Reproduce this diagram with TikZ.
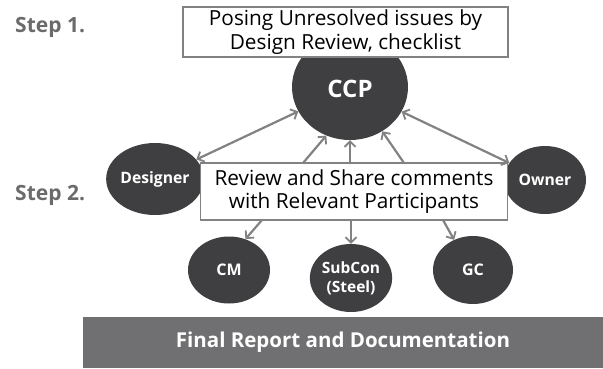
\documentclass[tikz,border=0pt]{standalone}
\usepackage{fontspec}
\setmainfont{Open Sans}
\usetikzlibrary{arrows.meta,shapes.geometric}
\definecolor{bubble}{HTML}{3F3F41}
\definecolor{linkgray}{HTML}{828282}
\definecolor{steptext}{HTML}{6B6B6B}
\definecolor{barfill}{HTML}{707072}
\tikzset{
  bubble/.style={ellipse, fill=bubble, text=white, inner sep=0pt,
    font=\bfseries\fontsize{15.7}{19}\selectfont, align=center},
  notebox/.style={draw=linkgray, line width=1.4pt, fill=white, inner sep=0pt,
    font=\fontsize{20.8}{23.8}\selectfont, align=center},
  steplabel/.style={text=steptext, font=\bfseries\fontsize{21}{24}\selectfont, anchor=base west, inner sep=0pt},
  barb/.tip={Straight Barb[length=5.5pt,width=11pt,line width=1.8pt]},
  link/.style={draw=linkgray, line width=2.2pt, -barb},
  duallink/.style={draw=linkgray, line width=2.2pt, barb-barb}
}
\begin{document}
\begin{tikzpicture}[x=1pt,y=-1pt]
\useasboundingbox (0,0) rectangle (603,368);
\fill[white] (0,0) rectangle (603,368);

% step labels
\node[steplabel] (s1) at (15,32) {Step 1.};
\node[steplabel] (s2) at (15,200) {Step 2.};

% participants
\node[bubble, minimum width=116pt, minimum height=106pt] (ccp) at (350,87) {};
\node[text=white, font=\bfseries\fontsize{24}{26}\selectfont, inner sep=0pt] (ccptext) at (350,88.5) {CCP};
\node[bubble, minimum width=84pt, minimum height=72pt] (designer) at (155,179) {Designer};
\node[bubble, minimum width=82pt, minimum height=68pt] (owner) at (545,180) {Owner};
\node[bubble, minimum width=82pt, minimum height=67pt, font=\bfseries\fontsize{16}{18}\selectfont] (cm) at (229,270) {CM};
\node[bubble, minimum width=80pt, minimum height=68pt, font=\bfseries\fontsize{15.5}{19}\selectfont] (subcon) at (351,278) {SubCon\\(Steel)};
\node[bubble, minimum width=80pt, minimum height=68pt, font=\bfseries\fontsize{16}{18}\selectfont] (gc) at (473,270) {GC};

% step boxes
\node[notebox, minimum width=325pt, minimum height=50pt] (pose) at (345.5,32) {Posing Unresolved issues by\\Design Review, checklist};
\node[notebox, minimum width=307pt, minimum height=57pt] (share) at (354,191.5) {Review and Share comments\\with Relevant Participants};

% report bar
\node[fill=barfill, text=white, minimum width=520pt, minimum height=51pt, inner sep=0pt,
  font=\bfseries\fontsize{20.5}{22}\selectfont] (report) at (343,342.5) {Final Report and Documentation};

% arrow start points on the review box
\coordinate (u1) at (303,163);
\coordinate (u2) at (350,163);
\coordinate (u3) at (404,163);
\coordinate (d1) at (262,220);
\coordinate (d2) at (351,220);
\coordinate (d3) at (443,220);

% connectors
\draw[duallink] (designer) -- (ccp);
\draw[duallink] (owner) -- (ccp);
\draw[link] (u1) -- (ccp.-116);
\draw[link] (u2) -- (ccp.south);
\draw[link] (u3) -- (ccp.-54);
\draw[link] (d1) -- (cm.62);
\draw[link] (d2) -- (subcon.north);
\draw[link] (d3) -- (gc.122);
\end{tikzpicture}
\end{document}
